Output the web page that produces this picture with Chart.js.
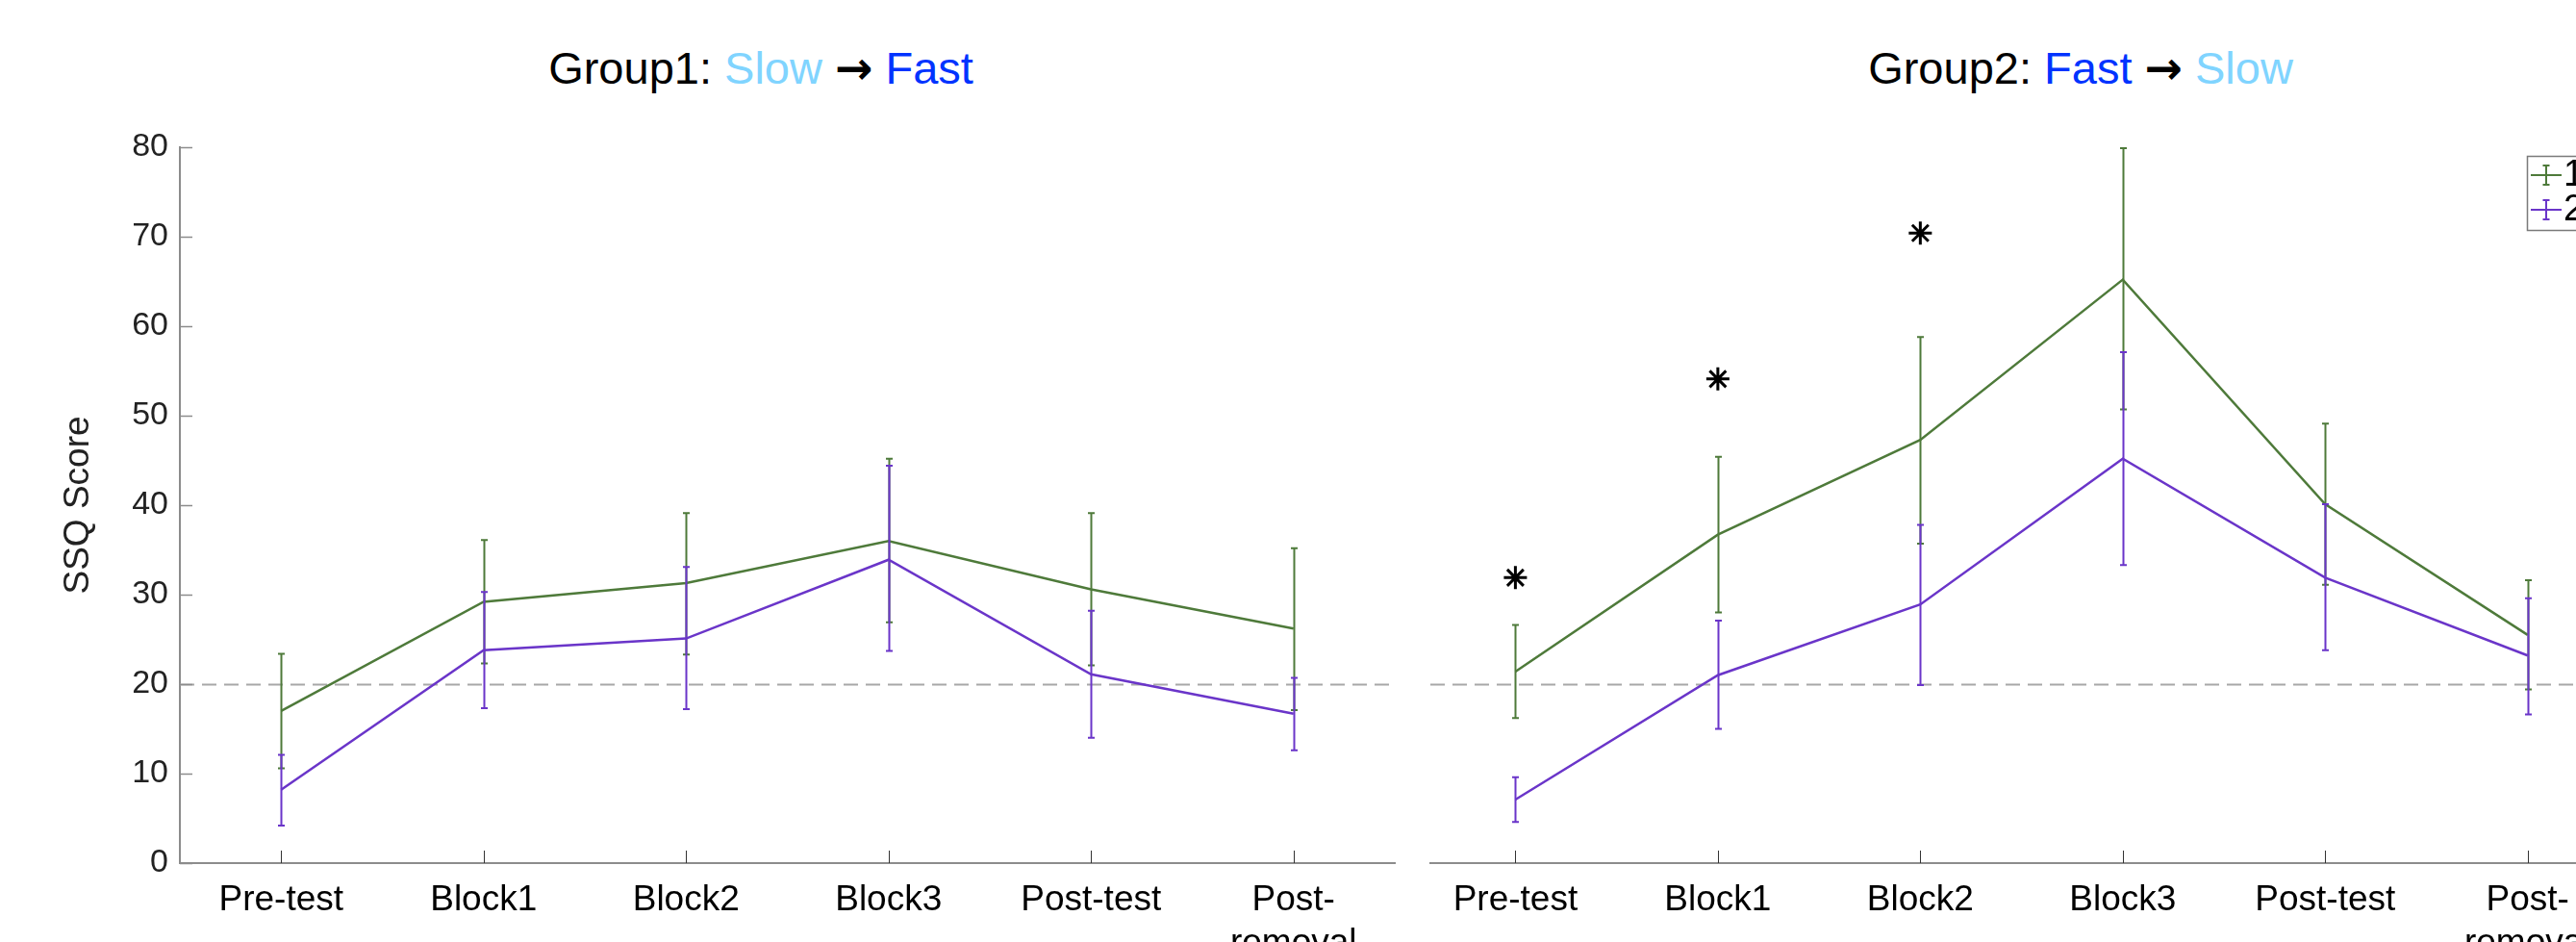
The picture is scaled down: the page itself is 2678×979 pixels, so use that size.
<!DOCTYPE html>
<html>
<head>
<meta charset="utf-8">
<script src="https://cdn.jsdelivr.net/npm/chart.js@4/dist/chart.umd.min.js"></script>
<style>
  html, body { margin: 0; padding: 0; background: #fff; }
  body { width: 2678px; height: 979px; overflow: hidden; position: relative;
         font-family: "Liberation Sans", Arial, Helvetica, sans-serif; }
  canvas { position: absolute; top: 0; }
  .ttl { position: absolute; top: 47px; width: 1000px; text-align: center;
         font-size: 47px; line-height: 47px; color: #000; white-space: nowrap; }
  .arrow { font-family: "DejaVu Sans", sans-serif; font-weight: bold; }
  .slow { color: #80d4ff; }
  .fast { color: #0033ff; }
</style>
</head>
<body>
<div class="ttl" style="left:291px">Group1: <span class="slow">Slow</span> <span class="arrow">→</span> <span class="fast">Fast</span></div>
<div class="ttl" style="left:1663px">Group2: <span class="fast">Fast</span> <span class="arrow">→</span> <span class="slow">Slow</span></div>
<canvas id="group1" width="1470" height="979" style="left:0"></canvas>
<canvas id="group2" width="1400" height="979" style="left:1400px"></canvas>
<script>
// Sessions along the x axis
const categories = ['Pre-test', 'Block1', 'Block2', 'Block3', 'Post-test', 'Post-removal'];
const tickLabels = ['Pre-test', 'Block1', 'Block2', 'Block3', 'Post-test', ['Post-', 'removal']];
const seriesNames = ['1', '2'];

// Group 1 (Slow -> Fast): mean SSQ score with lower/upper error bar ends
const g1s1Mean = [17.0, 29.2, 31.3, 36.0, 30.6, 26.2];
const g1s1Low  = [10.6, 22.3, 23.3, 26.9, 22.1, 17.1];
const g1s1High = [23.4, 36.1, 39.1, 45.2, 39.1, 35.2];
const g1s2Mean = [8.2, 23.8, 25.1, 33.9, 21.1, 16.7];
const g1s2Low  = [4.2, 17.3, 17.2, 23.7, 14.0, 12.6];
const g1s2High = [12.1, 30.3, 33.1, 44.4, 28.2, 20.7];

// Group 2 (Fast -> Slow)
const g2s1Mean = [21.4, 36.7, 47.3, 65.2, 40.1, 25.5];
const g2s1Low  = [16.2, 28.0, 35.7, 50.7, 31.1, 19.4];
const g2s1High = [26.6, 45.4, 58.8, 79.9, 49.1, 31.6];
const g2s2Mean = [7.1, 21.0, 28.9, 45.2, 31.9, 23.2];
const g2s2Low  = [4.6, 15.0, 19.9, 33.3, 23.8, 16.6];
const g2s2High = [9.6, 27.1, 37.8, 57.1, 40.1, 29.6];

// Significance markers (Group 2), null where none
const g2Stars = [31.9, 54.1, 70.4, null, null, null];

// Reference threshold and y range
const threshold = 20;
const yMin = 0, yMax = 80, yStep = 10;

const colors = ['#4e7a3a', '#6a35c9'];
const axisGrey = '#8c8c8c';

Chart.defaults.font.family = '"Liberation Sans", Arial, Helvetica, sans-serif';

// Vertical error bars with small caps, drawn right after each series line
const errorBars = {
  id: 'errorBars',
  afterDatasetDraw(chart, args) {
    const ds = chart.data.datasets[args.index];
    if (!ds.errLow) return;
    const xs = chart.scales.x, ys = chart.scales.y, ctx = chart.ctx;
    ctx.save();
    ctx.strokeStyle = ds.borderColor;
    ctx.lineWidth = 2;
    ds.data.forEach((p, i) => {
      const px = Math.round(xs.getPixelForValue(p.x)) + 0.5;
      const yl = ys.getPixelForValue(ds.errLow[i]);
      const yh = ys.getPixelForValue(ds.errHigh[i]);
      ctx.beginPath();
      ctx.moveTo(px, yl); ctx.lineTo(px, yh);
      ctx.moveTo(px - 3.5, yl); ctx.lineTo(px + 3.5, yl);
      ctx.moveTo(px - 3.5, yh); ctx.lineTo(px + 3.5, yh);
      ctx.stroke();
    });
    ctx.restore();
  }
};

// Dashed threshold line and inward-pointing tick marks
const axesDecor = {
  id: 'axesDecor',
  beforeDatasetsDraw(chart, args, opts) {
    const { ctx, chartArea } = chart;
    const xs = chart.scales.x, ys = chart.scales.y;
    ctx.save();
    const ty = Math.round(ys.getPixelForValue(threshold)) + 0.5;
    ctx.strokeStyle = '#a8a8a8';
    ctx.lineWidth = 2;
    ctx.setLineDash([15, 8]);
    ctx.beginPath();
    ctx.moveTo(chartArea.left, ty); ctx.lineTo(chartArea.right, ty);
    ctx.stroke();
    ctx.setLineDash([]);

    ctx.strokeStyle = '#333';
    ctx.lineWidth = 1;
    xs.ticks.forEach(t => {
      const px = Math.round(xs.getPixelForValue(t.value)) + 0.5;
      ctx.beginPath();
      ctx.moveTo(px, chartArea.bottom); ctx.lineTo(px, chartArea.bottom - 13);
      ctx.stroke();
    });

    if (opts.yTicks) {
      ctx.strokeStyle = axisGrey;
      ctx.lineWidth = 1.5;
      ys.ticks.forEach(t => {
        const py = Math.round(ys.getPixelForValue(t.value)) + 0.5;
        ctx.beginPath();
        ctx.moveTo(chartArea.left, py); ctx.lineTo(chartArea.left + 13, py);
        ctx.stroke();
      });
    }
    ctx.restore();
  }
};

// Boxed legend with error-bar symbols
const legendBox = {
  id: 'legendBox',
  afterDraw(chart, args, opts) {
    if (!opts.show) return;
    const ctx = chart.ctx;
    const sets = chart.data.datasets.filter(d => d.errLow);
    ctx.save();
    ctx.fillStyle = '#fff';
    ctx.fillRect(opts.x, opts.y, opts.w, opts.h);
    ctx.strokeStyle = '#7a7a7a';
    ctx.lineWidth = 1.5;
    ctx.strokeRect(opts.x + 0.5, opts.y + 0.5, opts.w, opts.h);
    sets.forEach((d, i) => {
      const cy = opts.y + 20 + i * 36;
      const x0 = opts.x + 4, x1 = opts.x + 36, xm = (x0 + x1) / 2;
      ctx.strokeStyle = d.borderColor;
      ctx.lineWidth = 2;
      ctx.beginPath();
      ctx.moveTo(x0, cy); ctx.lineTo(x1, cy);
      ctx.moveTo(xm, cy - 10); ctx.lineTo(xm, cy + 10);
      ctx.moveTo(xm - 3.5, cy - 10); ctx.lineTo(xm + 3.5, cy - 10);
      ctx.moveTo(xm - 3.5, cy + 10); ctx.lineTo(xm + 3.5, cy + 10);
      ctx.stroke();
      ctx.fillStyle = '#000';
      ctx.font = '38px "Liberation Sans", Arial, sans-serif';
      ctx.textBaseline = 'middle';
      ctx.fillText(d.label, x1 + 2, cy + 1);
    });
    ctx.restore();
  }
};

function seriesSet(label, color, means, lows, highs, order) {
  return {
    type: 'line', label, order,
    data: means.map((v, i) => ({ x: i, y: v })),
    borderColor: color, backgroundColor: color,
    borderWidth: 2.5, pointRadius: 0, tension: 0,
    errLow: lows, errHigh: highs
  };
}

function xScale(min) {
  return {
    type: 'linear', min, max: categories.length - 0.5,
    afterBuildTicks: s => { s.ticks = categories.map((c, i) => ({ value: i })); },
    afterFit: s => { s.height = 82; },
    grid: { display: false, drawTicks: false },
    border: { display: true, color: axisGrey, width: 2 },
    ticks: {
      padding: 17, color: '#000', font: { size: 37 },
      autoSkip: false, maxRotation: 0, minRotation: 0,
      callback: v => tickLabels[v]
    }
  };
}

// Group 1 panel
new Chart(document.getElementById('group1'), {
  type: 'line',
  data: {
    datasets: [
      seriesSet(seriesNames[0], colors[0], g1s1Mean, g1s1Low, g1s1High, 1),
      seriesSet(seriesNames[1], colors[1], g1s2Mean, g1s2Low, g1s2High, 0)
    ]
  },
  options: {
    responsive: false, animation: false, devicePixelRatio: 1,
    layout: { padding: { top: 153, right: 20, left: 0, bottom: 0 } },
    plugins: { legend: { display: false }, tooltip: { enabled: false },
               axesDecor: { yTicks: true } },
    scales: {
      x: xScale(-0.5),
      y: {
        type: 'linear', min: yMin, max: yMax,
        afterFit: s => { s.width = 187; },
        grid: { display: false, drawTicks: false },
        border: { display: true, color: axisGrey, width: 2 },
        ticks: { stepSize: yStep, padding: 12, color: '#222', font: { size: 34 } },
        title: { display: true, text: 'SSQ Score', color: '#222',
                 font: { size: 37 }, padding: { top: 60, bottom: 0 } }
      }
    }
  },
  plugins: [errorBars, axesDecor]
});

// Group 2 panel
new Chart(document.getElementById('group2'), {
  type: 'line',
  data: {
    datasets: [
      seriesSet(seriesNames[0], colors[0], g2s1Mean, g2s1Low, g2s1High, 1),
      seriesSet(seriesNames[1], colors[1], g2s2Mean, g2s2Low, g2s2High, 0),
      {
        type: 'line', label: '*', order: -1,
        data: g2Stars.map((v, i) => ({ x: i, y: v })).filter(p => p.y !== null),
        showLine: false, pointStyle: 'star', pointRadius: 12,
        pointBorderColor: '#000', pointBackgroundColor: '#000', pointBorderWidth: 3
      }
    ]
  },
  options: {
    responsive: false, animation: false, devicePixelRatio: 1,
    layout: { padding: { top: 153, right: 67, left: 87, bottom: 0 } },
    plugins: { legend: { display: false }, tooltip: { enabled: false },
               axesDecor: { yTicks: false },
               legendBox: { show: true, x: 1227, y: 162, w: 110, h: 77 } },
    scales: {
      x: xScale(-0.42),
      y: { type: 'linear', min: yMin, max: yMax, display: false }
    }
  },
  plugins: [errorBars, axesDecor, legendBox]
});
</script>
</body>
</html>
